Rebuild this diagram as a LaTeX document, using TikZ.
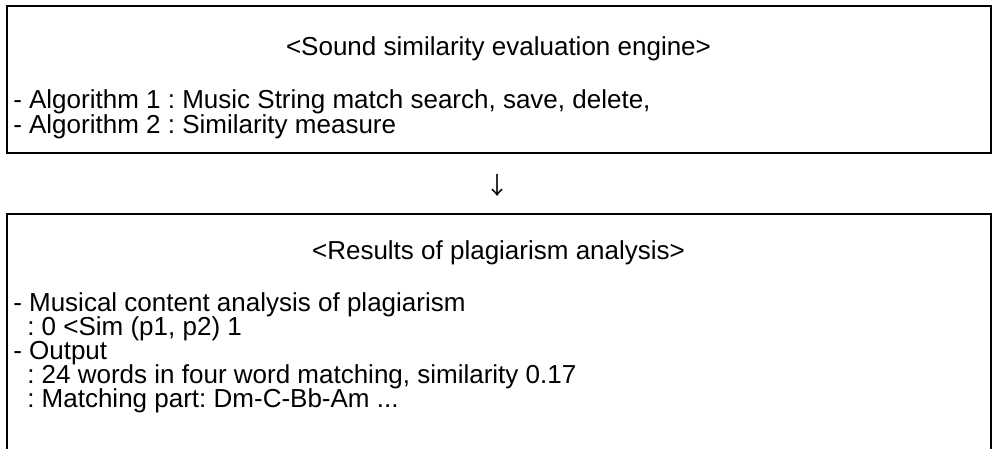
\documentclass[tikz,border=0pt]{standalone}
\usepackage{fontspec}
\setmainfont{Liberation Sans}
\newfontfamily\cjkarrow{Noto Sans CJK KR}
\frenchspacing
\begin{document}
\begin{tikzpicture}[x=0.75pt,y=-0.75pt,
  box/.style={line width=1.5pt},
  txt/.style={font=\fontsize{19.5}{22}\selectfont, inner sep=0pt, anchor=base west},
  ttl/.style={font=\fontsize{19.5}{22}\selectfont, inner sep=0pt, anchor=base}]
\useasboundingbox (0,0) rectangle (994,449);
% top box
\node[draw, box, minimum width=737.6pt, minimum height=110.25pt, inner sep=0pt] (engine) at (498.75,79.5) {};
% lower box (open at the bottom, cut by the page edge)
\node[minimum width=737.6pt, minimum height=176.25pt, inner sep=0pt, outer sep=0pt] (results) at (498.75,331.5) {};
\draw[box] (results.south west) -- (results.north west) -- (results.north east) -- (results.south east);
% texts
\node[ttl] (t1) at (498.5,56) {<Sound similarity evaluation engine>};
\node[txt] (a1) at (13,109) {- Algorithm 1 : Music String match search, save, delete,};
\node[txt] (a2) at (13,133) {- Algorithm 2 : Similarity measure};
\node[font=\cjkarrow\fontsize{18}{20}\selectfont, inner sep=0pt, anchor=center] (arrow) at (497,185) {↓};
\node[ttl] (t2) at (498.5,259) {<Results of plagiarism analysis>};
\node[txt] (l1) at (13,311) {- Musical content analysis of plagiarism};
\node[txt] (l2) at (27,335) {: 0 <Sim (p1, p2) 1};
\node[txt] (l3) at (13,359) {- Output};
\node[txt] (l4) at (27,383) {: 24 words in four word matching, similarity 0.17};
\node[txt] (l5) at (27,407) {: Matching part: Dm-C-Bb-Am ...};
\end{tikzpicture}
\end{document}
